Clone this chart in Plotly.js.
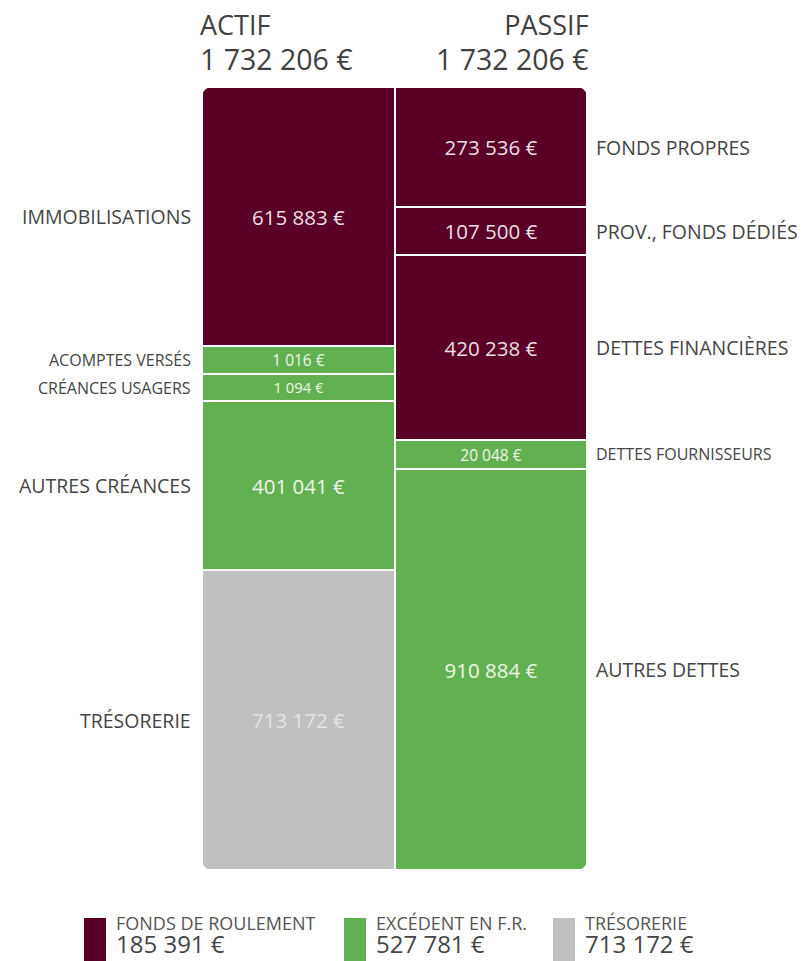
<!DOCTYPE html>
<html><head><meta charset="utf-8">
<script src="https://cdn.plot.ly/plotly-3.0.1.min.js"></script>
<style>html,body{margin:0;padding:0;background:#fff}#chart{width:805px;height:961px}</style>
</head><body><div id="chart"></div>
<script>
// ---------- DATA ----------
const columns = ['ACTIF', 'PASSIF'];
const columnTotals = [1732206, 1732206];

const actifLabels = ['IMMOBILISATIONS', 'ACOMPTES VERSÉS', 'CRÉANCES USAGERS', 'AUTRES CRÉANCES', 'TRÉSORERIE'];
const actifValues = [615883, 1016, 1094, 401041, 713172];
const actifGroups = ['fr', 'excedent', 'excedent', 'excedent', 'treso'];

const passifLabels = ['FONDS PROPRES', 'PROV., FONDS DÉDIÉS', 'DETTES FINANCIÈRES', 'DETTES FOURNISSEURS', 'AUTRES DETTES'];
const passifValues = [273536, 107500, 420238, 20048, 910884];
const passifGroups = ['fr', 'fr', 'fr', 'excedent', 'excedent'];

const legendKeys = ['fr', 'excedent', 'treso'];
const legendNames = ['FONDS DE ROULEMENT', 'EXCÉDENT EN F.R.', 'TRÉSORERIE'];
const legendValues = [185391, 527781, 713172];

// minimum displayed amount so very small items remain readable (as in the original)
const MIN_VISIBLE = 66000;

// ---------- STYLE ----------
const FONT = '"Open Sans", "Noto Sans", sans-serif';
const colors = { fr: '#5a0027', excedent: '#62b150', treso: '#c0c0c0' };
const insideTextColors = { fr: '#eadfe4', excedent: '#eef6ea', treso: '#e4e4e4' };
const LABEL_COLOR = '#454545';
const M = { l: 202, r: 218, t: 87, b: 91 };
const W = 805, H = 961;
const plotW = W - M.l - M.r, plotH = H - M.t - M.b;
const pxX = px => (px - M.l) / plotW;
const pxY = py => (H - M.b - py) / plotH;

const fmt = v => String(v).replace(/\B(?=(\d{3})+(?!\d))/g, ' ') + ' €';

const traces = [];
const annotations = [];

function buildColumn(colIndex, labels, values, groups) {
  const col = columns[colIndex];
  const display = values.map(v => Math.max(v, MIN_VISIBLE));
  const total = display.reduce((a, b) => a + b, 0);
  let cum = 0;
  for (let i = labels.length - 1; i >= 0; i--) {
    const small = values[i] < MIN_VISIBLE;
    traces.push({
      type: 'bar', x: [col], y: [display[i]], name: labels[i],
      marker: { color: colors[groups[i]], line: { color: '#ffffff', width: 2 } },
      text: [fmt(values[i])], textposition: 'inside', insidetextanchor: 'middle', textangle: 0,
      textfont: { family: FONT, size: small ? 15.5 : 20.5, color: insideTextColors[groups[i]] },
      hovertemplate: labels[i] + ' : ' + fmt(values[i]) + '<extra></extra>',
      showlegend: false
    });
    const center = (cum + display[i] / 2) / total * 100;
    cum += display[i];
    annotations.push({
      xref: 'paper', yref: 'y', x: colIndex === 0 ? 0 : 1, y: center,
      xanchor: colIndex === 0 ? 'right' : 'left', yanchor: 'middle',
      xshift: colIndex === 0 ? -9 : 7,
      text: labels[i], showarrow: false,
      font: { family: FONT, size: small ? 16 : 19.5, color: LABEL_COLOR }
    });
  }
}
buildColumn(0, actifLabels, actifValues, actifGroups);
buildColumn(1, passifLabels, passifValues, passifGroups);

// column headers
columns.forEach((c, i) => {
  annotations.push({ xref: 'paper', yref: 'paper', x: i === 0 ? 0 : 1, y: 1,
    xanchor: i === 0 ? 'left' : 'right', yanchor: 'bottom', showarrow: false,
    align: i === 0 ? 'left' : 'right', xshift: i === 0 ? -3 : 3, yshift: 8, borderpad: 0,
    text: c + '<br><span style="font-size:28.5px">' + fmt(columnTotals[i]) + '</span>',
    font: { family: FONT, size: 27, color: '#404040' } });
});

// custom legend
const shapes = [];
const legendPx = [84, 344, 553];
legendKeys.forEach((k, i) => {
  shapes.push({ type: 'rect', xref: 'paper', yref: 'paper', layer: 'above',
    x0: pxX(legendPx[i]), x1: pxX(legendPx[i] + 22), y0: pxY(970), y1: pxY(918),
    fillcolor: colors[k], line: { width: 0 } });
  annotations.push({ xref: 'paper', yref: 'paper', x: pxX(legendPx[i] + 31), y: pxY(961),
    xanchor: 'left', yanchor: 'bottom', showarrow: false, align: 'left', borderpad: 0, yshift: 0,
    text: '<span style="color:#555555">' + legendNames[i] + '</span><br><span style="font-size:24px">' + fmt(legendValues[i]) + '</span>',
    font: { family: FONT, size: 18, color: '#454545' } });
});

// rounded outer corners (white masks)
const R = 10, K = 0.5523;
[[0, 1, 1, -1], [1, 1, -1, -1], [0, 0, 1, 1], [1, 0, -1, 1]].forEach(([ax, ay, sx, sy]) => {
  const p = (x, y) => x.toFixed(2) + ',' + y.toFixed(2);
  const path = 'M' + p(-sx * 3, -sy * 3) + ' L' + p(sx * R, -sy * 3) + ' L' + p(sx * R, 0) +
    ' C' + p(sx * (R - K * R), 0) + ' ' + p(0, sy * (R - K * R)) + ' ' + p(0, sy * R) +
    ' L' + p(-sx * 3, sy * R) + ' Z';
  shapes.push({ type: 'path', xref: 'paper', yref: 'paper', xsizemode: 'pixel', ysizemode: 'pixel',
    xanchor: ax, yanchor: ay, path: path, fillcolor: '#ffffff', line: { width: 0 }, layer: 'above' });
});

const layout = {
  width: W, height: H, margin: M,
  barmode: 'stack', barnorm: 'percent', bargap: 0,
  paper_bgcolor: '#ffffff', plot_bgcolor: '#ffffff',
  xaxis: { visible: false, range: [-0.5, 1.5], fixedrange: true, type: 'category' },
  yaxis: { visible: false, range: [0, 100], fixedrange: true },
  showlegend: false,
  annotations: annotations, shapes: shapes,
  font: { family: FONT, color: LABEL_COLOR }
};
Plotly.newPlot('chart', traces, layout, { displayModeBar: false });
</script></body></html>
